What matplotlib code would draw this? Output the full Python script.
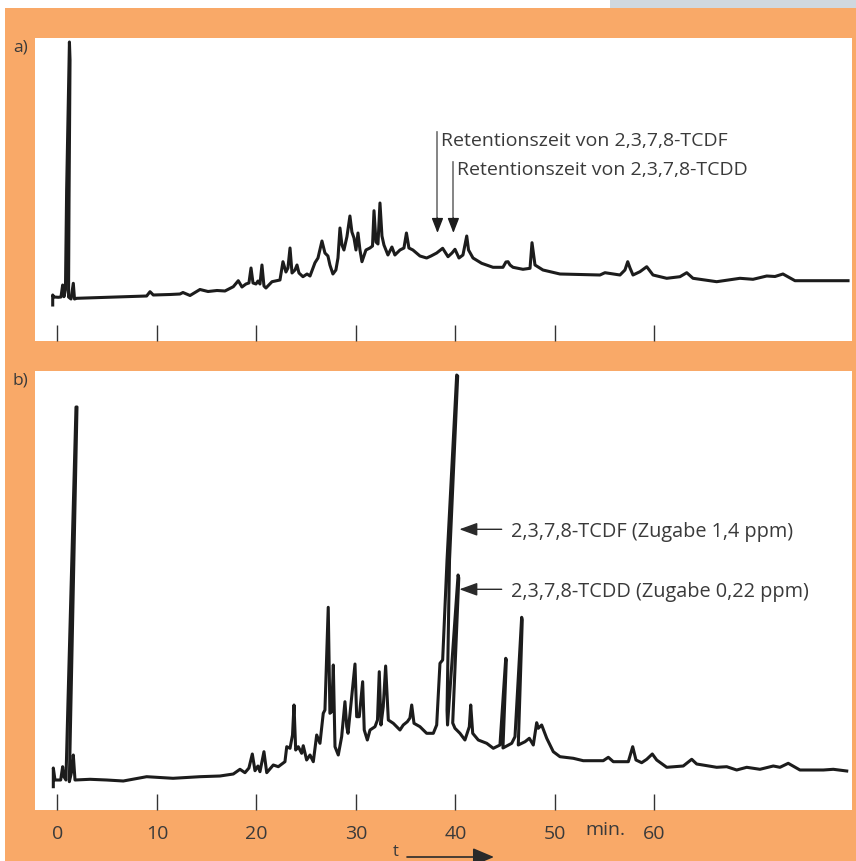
import matplotlib
matplotlib.use("Agg")
import matplotlib.pyplot as plt
from matplotlib.patches import Rectangle, FancyArrowPatch
from matplotlib.transforms import blended_transform_factory

plt.rcParams['font.family'] = ['Open Sans', 'DejaVu Sans']

# chromatogram a) -- sample without addition (time in min, signal in arbitrary units)
t_a = [-0.47, -0.47, -0.34, 0.09, 0.36, 0.53, 0.66, 0.81, 0.93, 1.21, 1.27, 1.17, 1.12,
       1.37, 1.60, 1.72, 1.94, 4.95, 8.97, 9.31, 9.64, 11.32, 12.32, 12.62, 13.33, 14.33,
       15.14, 16.04, 16.84, 17.68, 18.18, 18.55, 18.95, 19.25, 19.46, 19.66, 19.96, 20.16,
       20.36, 20.56, 20.76, 20.96, 21.57, 22.37, 22.67, 22.97, 23.17, 23.38, 23.58, 23.88,
       24.08, 24.28, 24.68, 25.09, 25.39, 25.89, 26.19, 26.59, 26.89, 27.19, 27.39, 27.69,
       27.99, 28.20, 28.40, 28.60, 28.80, 29.10, 29.40, 29.60, 29.81, 30.01, 30.21, 30.41,
       30.61, 31.01, 31.41, 31.67, 31.82, 32.02, 32.22, 32.42, 32.62, 32.82, 33.22, 33.62,
       33.92, 34.43, 34.83, 35.08, 35.33, 35.73, 36.44, 37.11, 37.55, 38.12, 38.72, 39.26,
       39.66, 39.96, 40.36, 40.76, 41.14, 41.32, 41.77, 42.64, 43.78, 44.78, 45.08, 45.29,
       45.49, 45.79, 46.79, 47.50, 47.70, 48.00, 48.80, 50.51, 54.53, 55.03, 56.54, 57.04,
       57.32, 57.55, 57.85, 58.55, 59.23, 59.86, 61.24, 62.57, 63.25, 63.88, 66.26, 68.60,
       69.91, 71.29, 72.12, 72.92, 74.13, 79.46]
s_a = [5, 15, 13, 12.7, 13, 25, 13.3, 20, 120, 268, 250, 110, 13,
       11, 26.7, 11, 11.7, 12.7, 14, 18.3, 15, 15.5, 16, 17.5, 14.5, 20.5,
       18.5, 19.5, 19, 23.3, 29.3, 23, 26, 27, 42, 27, 26, 29,
       26, 45, 24, 22, 28.3, 30, 48.3, 38, 42, 62, 37, 40,
       45, 37, 33.3, 36, 34, 47.3, 52, 69, 57, 54, 45, 36,
       40, 52, 82, 65, 60, 73.3, 94, 78, 72, 60, 77, 60,
       48.3, 60, 62, 64, 99.3, 68, 66, 107, 74, 65, 55, 63,
       55, 60, 62, 77, 62, 60, 54, 52, 54, 57, 61.7, 53.3,
       57, 60.7, 52, 55, 74, 60, 52, 46.7, 42.7, 42.7, 48, 48.3,
       45, 42.7, 40.7, 41.7, 67.3, 45, 40, 36, 35, 37.3, 35, 40,
       48.3, 42, 35, 38.3, 43.3, 35, 31.7, 33.3, 37.3, 31.7, 28.3, 31.7,
       30.7, 34, 33.5, 36, 29.3, 29.3]

# chromatogram b) -- same sample with 2,3,7,8-TCDF and 2,3,7,8-TCDD added
t_b = [-0.41, -0.41, -0.24, 0.33, 0.53, 0.66, 0.86, 1.07, 1.87, 1.97, 1.22, 1.20,
       1.47, 1.60, 1.77, 3.28, 4.95, 6.62, 8.97, 10.31, 11.62, 14.33, 16.34,
       17.68, 18.35, 18.85, 19.25, 19.59, 19.86, 20.16, 20.36, 20.76, 21.04, 21.70,
       22.20, 22.87, 23.05, 23.38, 23.63, 23.78, 23.95, 24.21, 24.55, 24.71, 25.05,
       25.39, 25.72, 26.06, 26.39, 26.72, 26.89, 27.22, 27.39, 27.57, 27.73, 27.90,
       28.23, 28.57, 28.90, 29.08, 29.21, 29.58, 29.91, 30.08, 30.34, 30.68, 30.84,
       31.15, 31.42, 31.92, 32.17, 32.35, 32.52, 32.75, 32.99, 33.26, 33.76, 34.43,
       34.76, 35.17, 35.43, 35.61, 35.84, 36.44, 37.11, 37.78, 38.12, 38.45, 38.72,
       39.16, 40.13, 40.23, 39.41, 39.16, 39.21, 40.27, 40.34, 39.73, 39.96, 40.46,
       40.96, 41.40, 41.54, 41.74, 42.30, 43.15, 43.81, 44.48, 45.06, 45.12, 44.78,
       45.66, 45.99, 46.66, 46.72, 46.32, 47.00, 47.43, 47.83, 48.17, 48.33, 48.67,
       49.18, 49.84, 50.51, 51.85, 52.85, 54.86, 55.37, 55.87, 57.38, 57.82, 58.15,
       58.72, 59.23, 59.79, 60.23, 61.24, 62.90, 63.75, 64.25, 66.26, 67.27, 68.27,
       69.28, 70.61, 71.95, 72.62, 73.45, 74.63, 76.98, 77.98, 79.33]
s_b = [3.3, 22, 10, 10, 23.3, 13.3, 10, 90, 383, 383, 20, 8.3,
       20, 35, 10, 10.7, 10, 9, 13.3, 12.5, 11.7, 13.3, 14,
       16, 20.7, 17.3, 22, 36, 19.3, 24, 18.3, 38.3, 17.3, 25,
       23.3, 28.3, 43.3, 41.7, 55, 85, 40, 43.3, 36.7, 44.3, 30,
       35, 28.3, 55, 46.7, 76.7, 80, 182.7, 76.7, 78.3, 125, 43.3,
       35, 53.3, 88.3, 63.3, 56.7, 93.3, 126, 73.3, 73.3, 108.3, 60,
       50, 60, 63.3, 70, 118.3, 65, 83.3, 124, 70, 66.7, 60,
       65, 68.3, 72, 85, 66.7, 63.3, 56.7, 56.7, 65, 126.7, 130,
       230, 415, 414, 230, 80, 65, 215, 212, 67, 61.7, 56.7,
       50, 63.3, 85, 56.7, 50, 46.7, 41.7, 45, 131.7, 130, 42,
       46.7, 53.3, 172.7, 170, 45, 48.3, 51.7, 45, 67.3, 61.7, 65,
       51.7, 38.3, 33.3, 31.7, 29.3, 29.3, 32.7, 28.3, 28.3, 43.3, 30,
       27.3, 30.7, 36, 30, 22.7, 24, 30.7, 26, 22.7, 23.3, 20,
       22.7, 20.7, 24, 22.7, 26.7, 20, 20, 20.7, 19]

time_ticks = [0, 10, 20, 30, 40, 50, 60]
tcdf_rt = 38.2   # retention time marks in a)
tcdd_rt = 39.8

W, H = 856, 861
ORANGE = '#f9a968'
INK = '#1c1c1c'
TXT = '#3a3a3a'

fig = plt.figure(figsize=(W / 100, H / 100), dpi=100)
fig.patch.set_facecolor('white')
fig.add_artist(Rectangle((5 / W, 0), 1 - 5 / W, 1 - 8 / H, transform=fig.transFigure,
                         facecolor=ORANGE, edgecolor='none', zorder=-2))
fig.add_artist(Rectangle((610 / W, 1 - 8 / H), 1 - 610 / W, 8 / H, transform=fig.transFigure,
                         facecolor='#d0d8df', edgecolor='none', zorder=-2))


def make_axes(top_px, bottom_px):
    ax = fig.add_axes([35 / W, 1 - bottom_px / H, 817 / W, (bottom_px - top_px) / H])
    ax.set_facecolor('white')
    for sp in ax.spines.values():
        sp.set_visible(False)
    ax.set_xlim(-2.25, 79.86)
    ax.set_yticks([])
    ax.set_xticks(time_ticks)
    ax.tick_params(axis='x', direction='in', length=11.5, width=1.0, color='#333333',
                   pad=11, labelsize=14, labelcolor=TXT)
    return ax


ax_a = make_axes(38, 341)
ax_a.set_ylim(-31, 272)
ax_a.plot(t_a, s_a, color=INK, lw=2.2, solid_joinstyle='round')
ax_a.tick_params(axis='x', labelbottom=False)

ax_b = make_axes(371, 810)
ax_b.set_ylim(-20, 419)
ax_b.plot(t_b, s_b, color=INK, lw=2.2, solid_joinstyle='round')

# "min." between 50 and 60
trans = blended_transform_factory(ax_b.transData, ax_b.transAxes)
ax_b.text(55.1, -11 / 439, 'min.', transform=trans, ha='center', va='top',
          fontsize=14, color=TXT)

# retention time arrows in a)
for rt, top, base, label in [(tcdf_rt, 178, 164, 'Retentionszeit von 2,3,7,8-TCDF'),
                             (tcdd_rt, 148, 135, 'Retentionszeit von 2,3,7,8-TCDD')]:
    ax_a.plot([rt, rt], [top, 88], color='#707070', lw=1.2)
    ax_a.annotate('', xy=(rt, 77), xytext=(rt, 92),
                  arrowprops=dict(arrowstyle='-|>,head_length=0.9,head_width=0.35',
                                  color=INK, lw=1.0, mutation_scale=10, shrinkA=0, shrinkB=0))
    ax_a.text(rt + 0.4, base, label, fontsize=14, color=TXT, ha='left', va='baseline')

# peak labels in b)
for y, base, label in [(260.7, 252.7, '2,3,7,8-TCDF (Zugabe 1,4 ppm)'),
                       (200.7, 192.7, '2,3,7,8-TCDD (Zugabe 0,22 ppm)')]:
    ax_b.annotate('', xy=(40.4, y), xytext=(44.65, y),
                  arrowprops=dict(arrowstyle='-|>,head_length=1.1,head_width=0.4',
                                  color='#2a2a2a', lw=1.0, mutation_scale=10,
                                  shrinkA=0, shrinkB=0))
    ax_b.text(45.56, base, label, fontsize=14.3, color=TXT, ha='left', va='baseline')

fig.text(13 / W, 1 - 48 / H, 'a)', fontsize=12.5, color=TXT, ha='left', va='center')
fig.text(13 / W, 1 - 381 / H, 'b)', fontsize=12.5, color=TXT, ha='left', va='center')

# time axis arrow at the bottom
fig.text(396 / W, 1 / H, 't', fontsize=12, color=TXT, ha='center', va='bottom')
fig.add_artist(FancyArrowPatch(
    (407 / W, 1 - 857 / H), (494 / W, 1 - 857 / H), transform=fig.transFigure,
    arrowstyle='-|>,head_length=1.3,head_width=0.55', mutation_scale=10,
    color='#2a2a2a', lw=1.2, shrinkA=0, shrinkB=0))

fig.savefig('out.png', dpi=100, facecolor=fig.get_facecolor())
